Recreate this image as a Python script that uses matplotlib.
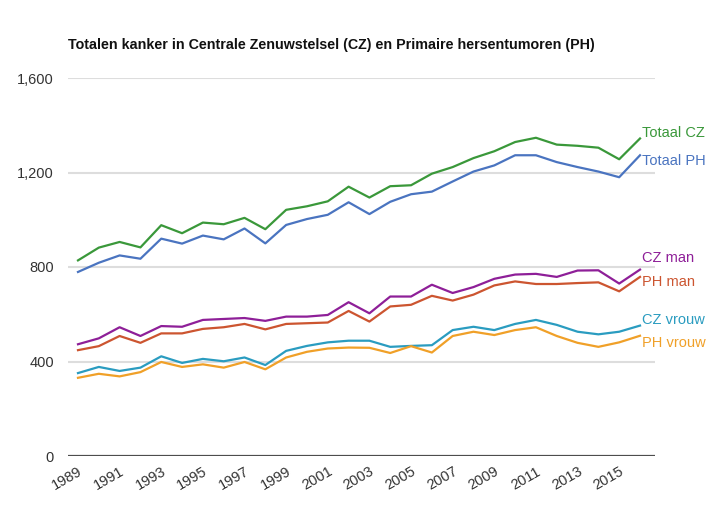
import numpy as np
import matplotlib.pyplot as plt

# ==== DATA ====
years = list(range(1989, 2017))

totaal_cz = [828, 882, 906, 883, 977, 943, 988, 981, 1008, 960, 1042, 1057, 1078, 1140,
             1094, 1142, 1146, 1195, 1223, 1261, 1290, 1329, 1347, 1318, 1313, 1305, 1256, 1344]
totaal_ph = [779, 818, 849, 835, 920, 899, 933, 917, 963, 900, 978, 1003, 1021, 1074,
             1024, 1076, 1108, 1119, 1162, 1204, 1230, 1273, 1273, 1244, 1223, 1204, 1180, 1273]
cz_man = [473, 498, 545, 508, 550, 547, 576, 580, 584, 572, 590, 590, 597, 651,
          604, 675, 675, 725, 690, 715, 750, 768, 771, 758, 785, 786, 730, 789]
ph_man = [448, 465, 508, 479, 519, 519, 538, 545, 559, 536, 559, 562, 565, 614,
          569, 633, 640, 678, 658, 683, 722, 739, 728, 728, 732, 735, 697, 758]
cz_vrouw = [351, 377, 360, 374, 422, 394, 411, 401, 417, 385, 445, 466, 481, 488,
            488, 462, 466, 469, 533, 547, 533, 559, 576, 555, 526, 515, 526, 552]
ph_vrouw = [331, 348, 337, 355, 398, 377, 388, 374, 398, 367, 417, 441, 455, 459,
            458, 436, 465, 438, 508, 526, 512, 533, 545, 508, 479, 462, 481, 509]

series_names = ['Totaal CZ', 'Totaal PH', 'CZ man', 'PH man', 'CZ vrouw', 'PH vrouw']
series_vals = [totaal_cz, totaal_ph, cz_man, ph_man, cz_vrouw, ph_vrouw]
colors = ['#3a983a', '#4a74c0', '#8e1f98', '#cc5530', '#2a9cc0', '#f0a028']
label_shift = [5, -6, 12, -5, 6, -7]   # pixels, to keep the end labels apart

yticks = [0, 400, 800, 1200, 1600]
ytick_labels = ['0', '400', '800', '1,200', '1,600']
xtick_years = list(range(1989, 2016, 2))
# ================================================

plt.rcParams['font.family'] = ['Liberation Sans', 'DejaVu Sans']

fig = plt.figure(figsize=(7.14, 5.15), dpi=100)
ax = fig.add_axes([68 / 714, 1 - 456 / 515, 587 / 714, 378 / 515])

for name, vals, c, dy in zip(series_names, series_vals, colors, label_shift):
    ax.plot(years, vals, color=c, lw=1.6, solid_joinstyle='round', zorder=3)
    ax.annotate(name, (years[-1], vals[-1]), xytext=(2, dy), textcoords='offset pixels',
                color=c, fontsize=10.5, va='center', ha='left', annotation_clip=False)

ax.set_xlim(1988.52, 2016.72)
ax.set_ylim(0, 1600)
ax.set_yticks(yticks)
ax.set_yticklabels(ytick_labels)
ax.set_xticks(xtick_years)
ax.set_xticklabels([str(y) for y in xtick_years], rotation=30, ha='right',
                   rotation_mode='anchor')
ax.tick_params(axis='both', length=0, labelsize=10.5, colors='#333333')
ax.tick_params(axis='x', pad=6)
ax.tick_params(axis='y', pad=10)

for t in yticks[1:]:
    ax.axhline(t, color='#dddddd', lw=1.5, zorder=1)
ax.axhline(0, color='#4d4d4d', lw=1.6, zorder=2)
for s in ax.spines.values():
    s.set_visible(False)

fig.text(68 / 714, 1 - 45 / 515, 'Totalen kanker in Centrale Zenuwstelsel (CZ) en Primaire hersentumoren (PH)',
         fontsize=10.3, fontweight='bold', color='#111111', va='center', ha='left')

fig.savefig('out.png', dpi=100)
